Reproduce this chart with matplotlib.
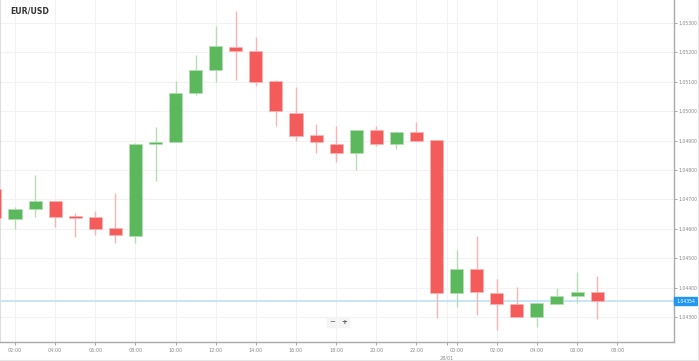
import matplotlib
matplotlib.use("Agg")
import matplotlib.pyplot as plt
from matplotlib.lines import Line2D

# hourly candles, hour index counted from 00:00 of the first day
hours = list(range(1, 32))
opens = [1.04735, 1.04633, 1.04667, 1.04695, 1.04642, 1.04640, 1.04603, 1.04576,
         1.04888, 1.04895, 1.05062, 1.05140, 1.05218, 1.05205, 1.05103, 1.04994,
         1.04919, 1.04888, 1.04858, 1.04936, 1.04888, 1.04929, 1.04902, 1.04382,
         1.04463, 1.04382, 1.04344, 1.04300, 1.04344, 1.04371, 1.04385]
highs = [1.04760, 1.04674, 1.04783, 1.04695, 1.04654, 1.04661, 1.04722, 1.04892,
         1.04946, 1.05103, 1.05191, 1.05290, 1.05341, 1.05252, 1.05106, 1.05082,
         1.04956, 1.04950, 1.04936, 1.04950, 1.04933, 1.04963, 1.04902, 1.04528,
         1.04576, 1.04429, 1.04402, 1.04348, 1.04399, 1.04453, 1.04439]
lows = [1.04620, 1.04599, 1.04640, 1.04606, 1.04572, 1.04579, 1.04552, 1.04552,
        1.04763, 1.04895, 1.05055, 1.05099, 1.05106, 1.05086, 1.04950, 1.04899,
        1.04858, 1.04827, 1.04800, 1.04882, 1.04871, 1.04899, 1.04297, 1.04334,
        1.04307, 1.04256, 1.04300, 1.04266, 1.04344, 1.04348, 1.04293]
closes = [1.04637, 1.04667, 1.04695, 1.04640, 1.04638, 1.04599, 1.04579, 1.04888,
          1.04895, 1.05062, 1.05140, 1.05222, 1.05205, 1.05099, 1.05001, 1.04916,
          1.04895, 1.04858, 1.04936, 1.04888, 1.04929, 1.04899, 1.04382, 1.04463,
          1.04385, 1.04344, 1.04300, 1.04348, 1.04371, 1.04385, 1.04354]

last_price = 1.04354
price_ticks = [1.043, 1.044, 1.045, 1.046, 1.047, 1.048, 1.049, 1.050, 1.051, 1.052, 1.053]
time_ticks = list(range(2, 34, 2))
time_labels = ["%02d:00" % (h % 24) for h in time_ticks]
day_tick = 23.5
day_label = "28/01"

UP = "#5cb85c"
DOWN = "#f45b5b"
UP_WICK = "#b3dfb3"
DOWN_WICK = "#fab4b4"

fig = plt.figure(figsize=(6.99, 3.61), dpi=100)
ax = fig.add_axes([0.0, 19 / 361, 674 / 699, 342 / 361])

for h, o, hi, lo, c in zip(hours, opens, highs, lows, closes):
    up = c >= o
    ax.vlines(h, lo, hi, color=UP_WICK if up else DOWN_WICK, lw=1.0, zorder=2)
    bottom = min(o, c)
    height = max(abs(c - o), 0.00006)
    ax.bar(h, height, bottom=bottom, width=0.65,
           color=UP if up else DOWN, edgecolor=UP_WICK if up else DOWN_WICK,
           linewidth=0.5, zorder=3)

# current price line
ax.axhline(last_price, color="#bfe0f7", lw=1.2, zorder=1)

ax.set_xlim(1.253, 34.83)
ax.set_ylim(1.04215, 1.053782)

ax.set_xticks(time_ticks + [day_tick])
ax.set_xticklabels(time_labels + [""])
ax.tick_params(axis="x", length=2, width=0.6, color="#999999", labelsize=3.5,
               labelcolor="#888888", pad=2)
ax.annotate(day_label, xy=(day_tick, 0), xycoords=ax.get_xaxis_transform(),
            xytext=(0, -9.5), textcoords="offset points", ha="center", va="top",
            fontsize=3.5, color="#888888")

ax.yaxis.tick_right()
ax.set_yticks(price_ticks)
ax.set_yticklabels(["%.5f" % p for p in price_ticks])
ax.tick_params(axis="y", length=2, width=0.6, color="#999999", labelsize=3.3,
               labelcolor="#888888", pad=1.5)

ax.grid(True, color="#f2f2f2", lw=0.8, zorder=0)
ax.set_axisbelow(True)

ax.spines["top"].set_visible(False)
for side in ["right", "bottom"]:
    ax.spines[side].set_color("#aaaaaa")
    ax.spines[side].set_linewidth(1.0)
ax.spines["left"].set_color("#dddddd")

# price label on the axis
ax.text(1.003, last_price, "%.5f" % last_price, transform=ax.get_yaxis_transform(),
        ha="left", va="center", fontsize=3.3, color="white",
        bbox=dict(boxstyle="square,pad=0.35", fc="#2196f3", ec="#2196f3"))

fig.text(10 / 699, 1 - 11 / 361, "EUR/USD", fontsize=5.6, fontweight="bold",
         color="#333333", va="center", ha="left")

# zoom buttons
fig.text(332 / 699, 1 - 322 / 361, "\u2212", fontsize=5, color="#555555", ha="center", va="center",
         bbox=dict(boxstyle="square,pad=0.3", fc="#f4f4f4", ec="#f4f4f4"))
fig.text(344 / 699, 1 - 322 / 361, "+", fontsize=5, color="#555555", ha="center", va="center",
         fontweight="bold", bbox=dict(boxstyle="square,pad=0.3", fc="#f4f4f4", ec="#f4f4f4"))

# widget border
fig.add_artist(Line2D([0, 697.5 / 699], [1 - 359.5 / 361] * 2, color="#e6e6e6", lw=0.8))
fig.add_artist(Line2D([697.5 / 699] * 2, [1 - 359.5 / 361, 1], color="#e6e6e6", lw=0.8))

fig.savefig("out.png", dpi=100, facecolor="white")
